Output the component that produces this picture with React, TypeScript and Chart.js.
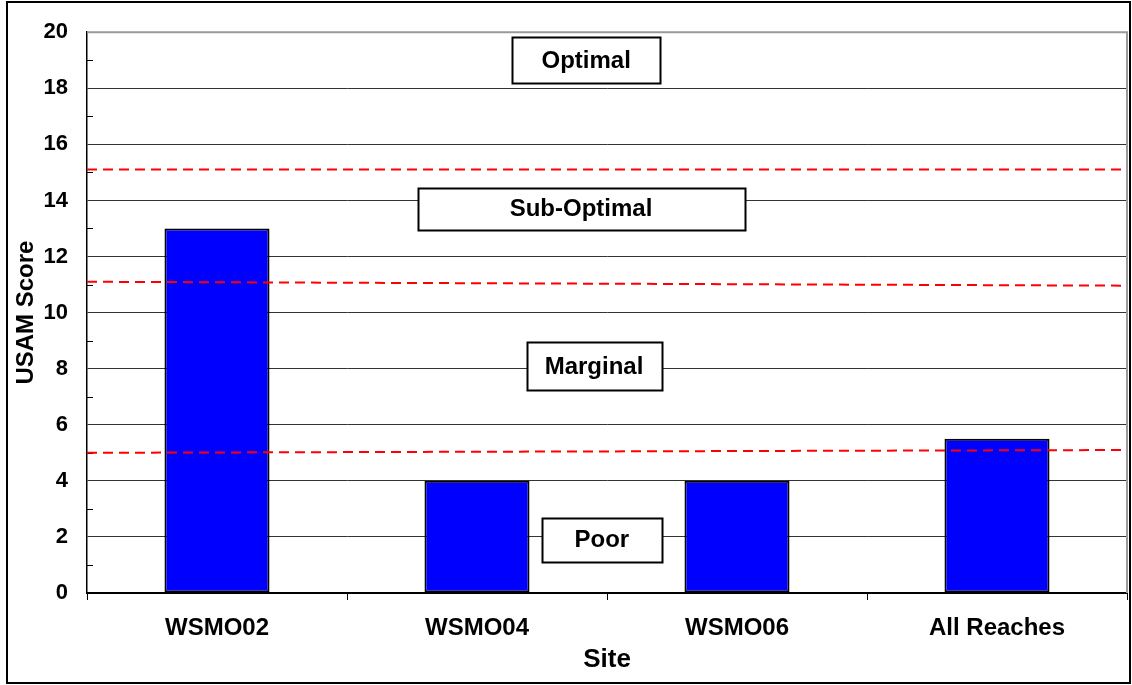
import React, { useEffect, useRef } from 'react';
import { Chart, registerables } from 'chart.js';

Chart.register(...registerables);

// ---- Data ----
const categories = ['WSMO02', 'WSMO04', 'WSMO06', 'All Reaches'];
const scores = [13, 4, 4, 5.5];
const yMin = 0;
const yMax = 20;
const yStep = 2;

// Threshold lines (value at left edge, value at right edge)
const thresholdLeft = [15.1, 11.1, 5.0];
const thresholdRight = [15.1, 10.96, 5.1];

// Zone labels (x in category-index units, y in score units)
const zoneLabels = ['Optimal', 'Sub-Optimal', 'Marginal', 'Poor'];
const zoneLabelX = [1.42, 1.4, 1.45, 1.48];
const zoneLabelY = [19.0, 13.7, 8.1, 1.9];

// ---- Styles ----
const FONT = "'Liberation Sans', Arial, sans-serif";
const zoneBoxW = [148, 327, 135, 120];
const zoneBoxH = [46, 42, 48, 44];

const decorPlugin = {
  id: 'decor',
  beforeDraw(chart: any) {
    const { ctx, width, height } = chart;
    ctx.save();
    ctx.fillStyle = '#ffffff';
    ctx.fillRect(0, 0, width, height);
    ctx.restore();
  },
  afterDatasetsDraw(chart: any) {
    const { ctx, chartArea, scales } = chart;
    const y = scales.y;
    const x = scales.x;
    ctx.save();

    // minor ticks
    ctx.strokeStyle = '#000';
    ctx.lineWidth = 1;
    for (let v = yMin + 1; v < yMax; v += yStep) {
      const py = Math.round(y.getPixelForValue(v)) + 0.5;
      ctx.beginPath();
      ctx.moveTo(chartArea.left, py);
      ctx.lineTo(chartArea.left + 6, py);
      ctx.stroke();
    }

    // plot border top / right (gray)
    ctx.strokeStyle = '#9a9a9a';
    ctx.lineWidth = 2;
    ctx.beginPath();
    ctx.moveTo(chartArea.left, chartArea.top);
    ctx.lineTo(chartArea.right, chartArea.top);
    ctx.lineTo(chartArea.right, chartArea.bottom);
    ctx.stroke();

    // threshold lines
    ctx.strokeStyle = '#ff0000';
    ctx.lineWidth = 2;
    ctx.setLineDash([10, 6]);
    for (let i = 0; i < thresholdLeft.length; i++) {
      ctx.beginPath();
      ctx.moveTo(chartArea.left, y.getPixelForValue(thresholdLeft[i]));
      ctx.lineTo(chartArea.right, y.getPixelForValue(thresholdRight[i]));
      ctx.stroke();
    }
    ctx.setLineDash([]);

    // zone label boxes
    ctx.font = `bold 24px ${FONT}`;
    ctx.textAlign = 'center';
    ctx.textBaseline = 'middle';
    for (let i = 0; i < zoneLabels.length; i++) {
      const cx = x.getPixelForValue(zoneLabelX[i]);
      const cy = y.getPixelForValue(zoneLabelY[i]);
      const w = zoneBoxW[i];
      const h = zoneBoxH[i];
      const bx = Math.round(cx - w / 2) + 0.5;
      const by = Math.round(cy - h / 2) + 0.5;
      ctx.fillStyle = '#fff';
      ctx.fillRect(bx, by, w, h);
      ctx.strokeStyle = '#000';
      ctx.lineWidth = 2;
      ctx.strokeRect(bx, by, w, h);
      ctx.fillStyle = '#000';
      ctx.fillText(zoneLabels[i], cx, cy + 1);
    }

    // outer frame
    ctx.strokeStyle = '#000';
    ctx.lineWidth = 2;
    ctx.strokeRect(7, 2, 1123, 681);
    ctx.restore();
  },
};

export default function App() {
  const canvasRef = useRef<HTMLCanvasElement | null>(null);

  useEffect(() => {
    const canvas = canvasRef.current;
    if (!canvas) return;
    const chart = new Chart(canvas, {
      type: 'bar',
      data: {
        labels: categories,
        datasets: [
          {
            label: 'USAM Score',
            data: scores,
            backgroundColor: '#0000ff',
            borderColor: '#000000',
            borderWidth: 2,
            borderSkipped: false,
            barPercentage: 0.404,
            categoryPercentage: 1,
          },
        ],
      },
      options: {
        animation: false,
        responsive: false,
        devicePixelRatio: 1,
        layout: { padding: { top: 29, right: 5, left: 0, bottom: 0 } },
        plugins: {
          legend: { display: false },
          tooltip: { enabled: false },
        },
        scales: {
          x: {
            offset: true,
            grid: {
              offset: true,
              drawOnChartArea: false,
              drawTicks: true,
              tickLength: 7,
              color: '#000',
            },
            border: { color: '#000', width: 2 },
            ticks: {
              color: '#000',
              font: { family: FONT, size: 24, weight: 'bold' },
              padding: 14,
              maxRotation: 0,
            },
            title: {
              display: true,
              text: 'Site',
              color: '#000',
              font: { family: FONT, size: 26, weight: 'bold' },
              padding: { top: 0, bottom: 10 },
            },
            afterFit: (scale: any) => {
              scale.height = 92;
            },
          },
          y: {
            min: yMin,
            max: yMax,
            ticks: {
              stepSize: yStep,
              color: '#000',
              font: { family: FONT, size: 22, weight: 'bold' },
              padding: 19,
            },
            grid: {
              drawTicks: false,
              color: (ctx: any) =>
                ctx.tick && (ctx.tick.value === yMax || ctx.tick.value === yMin)
                  ? 'rgba(0,0,0,0)'
                  : '#333',
              lineWidth: 1,
            },
            border: { color: '#000', width: 1.5 },
            title: {
              display: true,
              text: 'USAM Score',
              color: '#000',
              font: { family: FONT, size: 24, weight: 'bold' },
              padding: { top: 12, bottom: 0 },
            },
            afterFit: (scale: any) => {
              scale.width = 87;
            },
          },
        },
      },
      plugins: [decorPlugin],
    });
    return () => chart.destroy();
  }, []);

  return (
    <div style={{ position: 'fixed', left: 0, top: 0, width: 1132, height: 685, background: '#fff' }}>
      <canvas ref={canvasRef} width={1132} height={685} style={{ display: 'block' }} />
    </div>
  );
}
